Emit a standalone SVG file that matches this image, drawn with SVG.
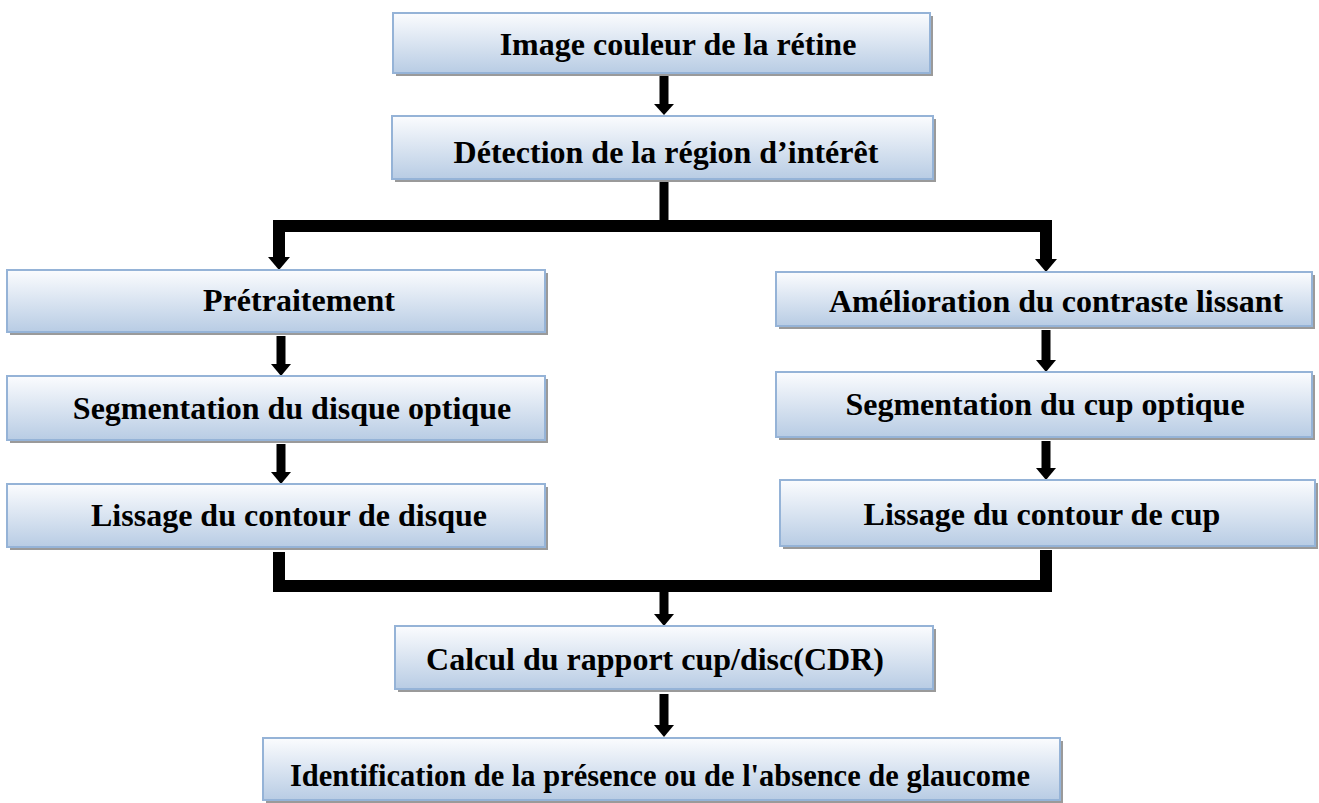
<svg xmlns="http://www.w3.org/2000/svg" width="1319" height="803" viewBox="0 0 1319 803">
<defs>
<linearGradient id="g" x1="0" y1="0" x2="0" y2="1">
<stop offset="0" stop-color="#fbfcfe"/>
<stop offset="1" stop-color="#b8cce4"/>
</linearGradient>
</defs>
<style>
.box{fill:url(#g);stroke:#95b3d7;stroke-width:2}
.sh{fill:#9a9a9a}
.t{font-family:"Liberation Serif","Times New Roman",serif;font-weight:bold;font-size:32px;fill:#000;text-anchor:middle}
.arr{stroke:#000;stroke-width:9;fill:none}
.bar{stroke:#000;stroke-width:12;fill:none;stroke-linejoin:miter}
</style>
<g id="connectors">
<line class="arr" x1="664" y1="76" x2="664" y2="104"/>
<path d="M654,104 L674,104 L664,115 Z"/>
<line class="arr" x1="664" y1="182" x2="664" y2="222"/>
<path class="bar" d="M279,257 L279,226 L1046,226 L1046,259"/>
<path d="M268,257 L290,257 L279,270 Z"/>
<path d="M1035,259 L1057,259 L1046,272 Z"/>
<line class="arr" x1="281" y1="336" x2="281" y2="365"/>
<path d="M271,364 L291,364 L281,376 Z"/>
<line class="arr" x1="281" y1="444" x2="281" y2="473"/>
<path d="M271,472 L291,472 L281,484 Z"/>
<line class="arr" x1="1046" y1="330" x2="1046" y2="361"/>
<path d="M1036,360 L1056,360 L1046,372 Z"/>
<line class="arr" x1="1046" y1="441" x2="1046" y2="469"/>
<path d="M1036,468 L1056,468 L1046,480 Z"/>
<path class="bar" d="M279,552 L279,586 L1046,586 L1046,550"/>
<line class="arr" x1="664" y1="590" x2="664" y2="615"/>
<path d="M654,614 L674,614 L664,626 Z"/>
<line class="arr" x1="664" y1="694" x2="664" y2="726"/>
<path d="M654,725 L674,725 L664,737 Z"/>
</g>
<g id="n1"><rect class="sh" x="396" y="16" width="537" height="60"/><rect class="box" x="393" y="13" width="537" height="60"/><text class="t" x="678" y="55">Image couleur de la rétine</text></g>
<g id="n2"><rect class="sh" x="395" y="119" width="541" height="63"/><rect class="box" x="392" y="116" width="541" height="63"/><text class="t" x="666" y="163">Détection de la région d’intérêt</text></g>
<g id="n3"><rect class="sh" x="10" y="273" width="538" height="62"/><rect class="box" x="7" y="270" width="538" height="62"/><text class="t" x="299" y="311">Prétraitement</text></g>
<g id="n4"><rect class="sh" x="10" y="379" width="538" height="64"/><rect class="box" x="7" y="376" width="538" height="64"/><text class="t" x="292" y="419">Segmentation du disque optique</text></g>
<g id="n5"><rect class="sh" x="10" y="487" width="538" height="63"/><rect class="box" x="7" y="484" width="538" height="63"/><text class="t" x="289" y="526">Lissage du contour de disque</text></g>
<g id="n6"><rect class="sh" x="779" y="275" width="536" height="54"/><rect class="box" x="776" y="272" width="536" height="54"/><text class="t" x="1056" y="312">Amélioration du contraste lissant</text></g>
<g id="n7"><rect class="sh" x="779" y="375" width="536" height="65"/><rect class="box" x="776" y="372" width="536" height="65"/><text class="t" x="1045" y="415">Segmentation du cup optique</text></g>
<g id="n8"><rect class="sh" x="783" y="483" width="535" height="66"/><rect class="box" x="780" y="480" width="535" height="66"/><text class="t" x="1042" y="525">Lissage du contour de cup</text></g>
<g id="n9"><rect class="sh" x="398" y="629" width="538" height="63"/><rect class="box" x="395" y="626" width="538" height="63"/><text class="t" x="655" y="670">Calcul du rapport cup/disc(CDR)</text></g>
<g id="n10"><rect class="sh" x="266" y="741" width="797" height="62"/><rect class="box" x="263" y="738" width="797" height="62"/><text class="t" x="660" y="786" textLength="740" lengthAdjust="spacingAndGlyphs">Identification de la présence ou de l'absence de glaucome</text></g>
</svg>
